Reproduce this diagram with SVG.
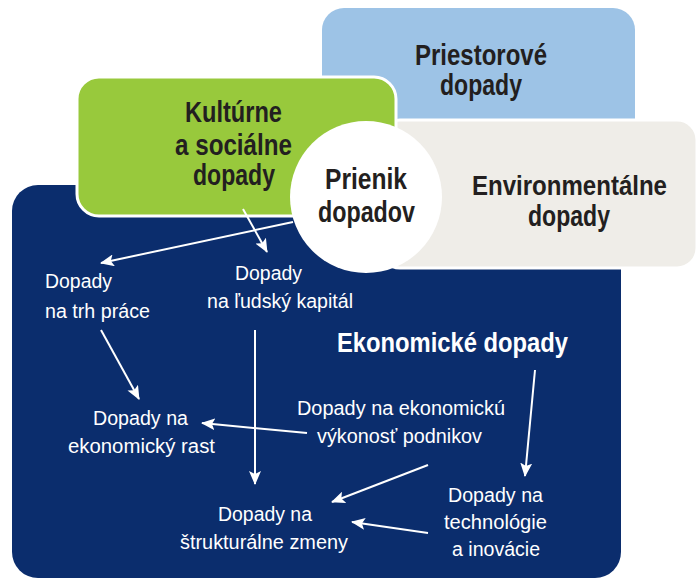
<svg xmlns="http://www.w3.org/2000/svg" width="699" height="580" viewBox="0 0 699 580">
<style>
text{font-family:"Liberation Sans",Arial,sans-serif}
.hd{font-weight:bold;font-size:30px;fill:#231f20}
.hw{font-weight:bold;font-size:28px;fill:#ffffff}
.t{font-size:20px;fill:#ffffff}
.c{stroke:#ffffff;stroke-width:2;fill:none;marker-end:url(#ah)}
</style>
<defs>
<marker id="ah" markerUnits="userSpaceOnUse" markerWidth="14" markerHeight="12" refX="13" refY="6" orient="auto">
<path d="M0,0 L14,6 L0,12 L3,6 Z" fill="#ffffff"/>
</marker>
</defs>
<rect width="699" height="580" fill="#ffffff"/>
<g id="ekonomicke">
<rect x="12" y="185" width="609" height="393" rx="26" fill="#0b2d6d"/>
<text class="hw" x="337" y="352" textLength="231" lengthAdjust="spacingAndGlyphs">Ekonomické dopady</text>
</g>
<g id="priestorove">
<rect x="322" y="8" width="313" height="140" rx="22" fill="#9dc3e6"/>
<text class="hd" x="415" y="65" textLength="132" lengthAdjust="spacingAndGlyphs">Priestorové</text>
<text class="hd" x="440" y="95" textLength="82" lengthAdjust="spacingAndGlyphs">dopady</text>
</g>
<g id="environmentalne">
<rect x="380" y="120" width="317" height="148" rx="20" fill="#efede8" stroke="#ffffff" stroke-width="3"/>
<text class="hd" x="569.5" y="195" text-anchor="middle" font-size="28" style="font-size:28px" textLength="195" lengthAdjust="spacingAndGlyphs">Environmentálne</text>
<text class="hd" x="528" y="226" textLength="82" lengthAdjust="spacingAndGlyphs">dopady</text>
</g>
<g id="kulturne">
<rect x="77" y="77" width="319" height="139" rx="22" fill="#98c93c" stroke="#ffffff" stroke-width="3"/>
<text class="hd" x="185" y="122" textLength="97" lengthAdjust="spacingAndGlyphs">Kultúrne</text>
<text class="hd" x="175" y="155" textLength="117" lengthAdjust="spacingAndGlyphs">a sociálne</text>
<text class="hd" x="193" y="185" textLength="82" lengthAdjust="spacingAndGlyphs">dopady</text>
</g>
<g id="prienik">
<circle cx="366" cy="197" r="76" fill="#ffffff"/>
<text class="hd" x="325" y="189" textLength="82" lengthAdjust="spacingAndGlyphs">Prienik</text>
<text class="hd" x="318" y="222" textLength="97" lengthAdjust="spacingAndGlyphs">dopadov</text>
</g>
<g id="trh-prace">
<text class="t" x="45" y="288" textLength="67" lengthAdjust="spacingAndGlyphs">Dopady</text>
<text class="t" x="45" y="318" textLength="105" lengthAdjust="spacingAndGlyphs">na trh práce</text>
</g>
<g id="ludsky-kapital">
<text class="t" x="235" y="280" textLength="67" lengthAdjust="spacingAndGlyphs">Dopady</text>
<text class="t" x="207" y="308" textLength="146" lengthAdjust="spacingAndGlyphs">na ľudský kapitál</text>
</g>
<g id="ekonomicky-rast">
<text class="t" x="93" y="425" textLength="95" lengthAdjust="spacingAndGlyphs">Dopady na</text>
<text class="t" x="68" y="453" textLength="147" lengthAdjust="spacingAndGlyphs">ekonomický rast</text>
</g>
<g id="vykonost">
<text class="t" x="297" y="415" textLength="208" lengthAdjust="spacingAndGlyphs">Dopady na ekonomickú</text>
<text class="t" x="317" y="443" textLength="165" lengthAdjust="spacingAndGlyphs">výkonosť podnikov</text>
</g>
<g id="strukturalne">
<text class="t" x="218" y="521" textLength="94" lengthAdjust="spacingAndGlyphs">Dopady na</text>
<text class="t" x="180" y="549" textLength="168" lengthAdjust="spacingAndGlyphs">štrukturálne zmeny</text>
</g>
<g id="technologie">
<text class="t" x="448" y="502" textLength="95" lengthAdjust="spacingAndGlyphs">Dopady na</text>
<text class="t" x="444" y="529" textLength="103" lengthAdjust="spacingAndGlyphs">technológie</text>
<text class="t" x="452" y="556" textLength="88" lengthAdjust="spacingAndGlyphs">a inovácie</text>
</g>
<g id="connectors">
<line class="c" x1="293" y1="222" x2="101" y2="263"/>
<line class="c" x1="243" y1="209" x2="267" y2="252"/>
<line class="c" x1="101" y1="330" x2="139" y2="399"/>
<line class="c" x1="255" y1="330" x2="255" y2="484"/>
<line class="c" x1="307" y1="433" x2="202" y2="423"/>
<line class="c" x1="428" y1="465" x2="332" y2="502"/>
<line class="c" x1="428" y1="533" x2="352" y2="522"/>
<line class="c" x1="535" y1="370" x2="525" y2="476"/>
</g>
</svg>
